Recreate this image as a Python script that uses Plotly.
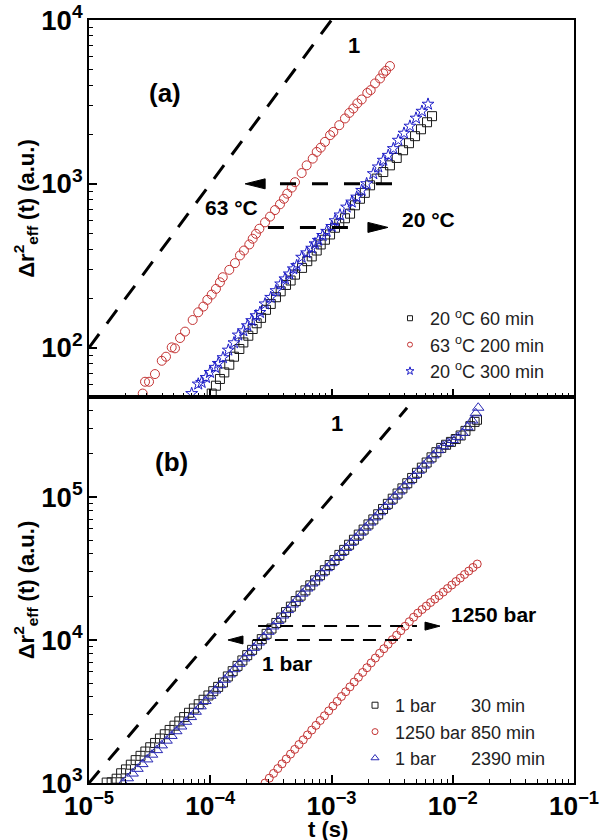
import numpy as np
import plotly.graph_objects as go
from plotly.subplots import make_subplots

# ---------------- panel (a): values read as log10 t(s), log10 dr2 ----------------
a_20c60_logt = [-3.988,-3.953,-3.920,-3.884,-3.843,-3.804,-3.760,-3.727,-3.686,-3.650,
                -3.617,-3.581,-3.540,-3.501,-3.458,-3.419,-3.375,-3.337,-3.301,-3.243,
                -3.200,-3.163,-3.122,-3.089,-3.054,-3.012,-2.971,-2.936,-2.889,-2.847,
                -2.806,-2.765,-2.725,-2.682,-2.627,-2.573,-2.518,-2.462,-2.410,-2.361,
                -2.311,-2.262,-2.212,-2.171]
a_20c60_logy = [1.720,1.768,1.809,1.849,1.896,1.945,1.992,2.032,2.073,2.114,
                2.149,2.182,2.231,2.267,2.308,2.344,2.383,2.410,2.446,2.487,
                2.528,2.557,2.593,2.630,2.659,2.691,2.732,2.757,2.790,2.818,
                2.869,2.909,2.945,2.991,3.032,3.072,3.113,3.158,3.205,3.248,
                3.291,3.333,3.376,3.413]

a_63c200_logt = [-4.557,-4.538,-4.505,-4.456,-4.400,-4.365,-4.318,-4.291,-4.249,-4.208,
                 -4.145,-4.099,-4.057,-4.024,-3.988,-3.953,-3.920,-3.897,-3.843,-3.796,
                 -3.755,-3.722,-3.678,-3.650,-3.623,-3.595,-3.548,-3.507,-3.466,-3.425,
                 -3.392,-3.365,-3.328,-3.301,-3.246,-3.205,-3.155,-3.122,-3.089,-3.054,
                 -3.012,-2.985,-2.936,-2.889,-2.853,-2.820,-2.787,-2.751,-2.705,-2.677,
                 -2.641,-2.600,-2.573,-2.551,-2.518]
a_63c200_logy = [1.720,1.792,1.792,1.839,1.920,1.945,2.002,1.996,2.059,2.098,
                 2.169,2.216,2.251,2.292,2.324,2.359,2.399,2.430,2.475,2.516,
                 2.563,2.593,2.630,2.665,2.695,2.726,2.765,2.800,2.840,2.875,
                 2.909,2.940,2.977,3.010,3.066,3.113,3.154,3.195,3.221,3.256,
                 3.297,3.317,3.358,3.399,3.433,3.460,3.491,3.515,3.555,3.572,
                 3.613,3.643,3.674,3.690,3.719]

a_20c300_logt = [-4.153,-4.099,-4.071,-4.035,-4.002,-3.961,-3.934,-3.895,-3.851,-3.804,
                 -3.769,-3.727,-3.694,-3.658,-3.623,-3.590,-3.548,-3.501,-3.458,-3.419,
                 -3.384,-3.348,-3.315,-3.287,-3.246,-3.205,-3.163,-3.136,-3.109,-3.073,
                 -3.040,-2.998,-2.971,-2.930,-2.875,-2.833,-2.792,-2.751,-2.710,-2.655,
                 -2.614,-2.573,-2.532,-2.490,-2.449,-2.402,-2.353,-2.303,-2.254,-2.204]
a_20c300_logy = [1.720,1.778,1.788,1.818,1.849,1.880,1.904,1.939,1.985,2.030,
                 2.077,2.103,2.134,2.165,2.195,2.215,2.267,2.307,2.348,2.389,
                 2.420,2.450,2.481,2.501,2.552,2.579,2.607,2.634,2.655,2.685,
                 2.710,2.740,2.775,2.810,2.858,2.889,2.919,2.960,3.001,3.062,
                 3.103,3.144,3.174,3.215,3.266,3.309,3.352,3.401,3.443,3.486]

# ---------------- panel (b) ----------------
b_1bar30_logt = [-4.854,-4.813,-4.772,-4.735,-4.695,-4.655,-4.615,
                 -4.575,-4.535,-4.495,-4.455,-4.415,-4.375,-4.335,-4.295,-4.255,-4.215,
                 -4.175,-4.135,-4.095,-4.055,-4.015,-3.975,-3.935,-3.895,
                 -3.855,-3.815,-3.775,-3.735,-3.695,-3.655,-3.615,-3.575,-3.535,-3.495,
                 -3.455,-3.415,-3.375,-3.335,-3.295,-3.255,-3.215,-3.175,-3.135,-3.095,
                 -3.055,-3.015,-2.975,-2.935,-2.895,-2.855,-2.815,-2.775,-2.735,-2.695,
                 -2.655,-2.615,-2.575,-2.535,-2.495,-2.455,-2.415,-2.375,-2.335,-2.295,
                 -2.255,-2.215,-2.175,-2.135,-2.095,-2.055,-2.015,-1.975,-1.935,-1.895,
                 -1.855,-1.820,-1.800]
b_1bar30_logy = [3.003,3.005,3.030,3.068,3.095,3.128,3.160,
                 3.190,3.220,3.250,3.280,3.311,3.341,3.371,3.401,3.431,3.461,
                 3.491,3.521,3.551,3.582,3.612,3.642,3.672,3.703,
                 3.745,3.782,3.819,3.857,3.894,3.931,3.968,4.006,4.043,4.080,
                 4.119,4.157,4.195,4.233,4.272,4.310,4.347,4.382,4.417,4.453,
                 4.488,4.524,4.559,4.595,4.630,4.666,4.701,4.737,4.772,4.808,
                 4.843,4.879,4.916,4.952,4.988,5.024,5.060,5.096,5.133,5.169,
                 5.205,5.241,5.277,5.313,5.343,5.365,5.385,5.405,5.430,5.462,
                 5.495,5.525,5.540]

b_1250bar850_logt = [-3.548,-3.513,-3.478,-3.443,-3.408,-3.373,-3.338,-3.303,-3.268,-3.233,
                     -3.198,-3.163,-3.128,-3.093,-3.058,-3.023,-2.988,-2.953,-2.918,-2.883,
                     -2.848,-2.813,-2.778,-2.743,-2.708,-2.673,-2.638,-2.603,-2.568,-2.533,
                     -2.498,-2.463,-2.428,-2.393,-2.358,-2.323,-2.288,-2.253,-2.218,-2.183,
                     -2.148,-2.113,-2.078,-2.043,-2.008,-1.973,-1.938,-1.903,-1.868,-1.833,
                     -1.798]
b_1250bar850_logy = [3.000,3.034,3.067,3.101,3.134,3.168,3.202,3.235,3.269,3.302,
                     3.336,3.370,3.403,3.437,3.470,3.504,3.538,3.571,3.605,3.638,
                     3.672,3.706,3.739,3.773,3.806,3.840,3.874,3.907,3.939,3.970,
                     4.002,4.033,4.065,4.096,4.128,4.159,4.188,4.213,4.237,4.262,
                     4.286,4.311,4.335,4.360,4.384,4.409,4.433,4.458,4.482,4.507,
                     4.531]

b_1bar2390_logt = [-4.72,-4.68,-4.64,-4.60,-4.56,-4.52,-4.48,-4.44,-4.40,-4.36,-4.32,-4.28,-4.24,-4.20,
                   -4.16,-4.12,-4.08,-4.04,-4.00,-3.96,-3.92,-3.88,-3.84,-3.80,-3.76,-3.72,-3.68,
                   -3.64,-3.60,-3.56,-3.52,
                   -3.48,-3.44,-3.40,-3.36,-3.32,-3.28,-3.24,
                   -3.20,-3.16,-3.12,-3.08,-3.04,-3.00,-2.96,-2.92,-2.88,-2.84,-2.80,-2.76,-2.72,-2.68,
                   -2.64,-2.60,-2.56,-2.52,-2.48,-2.44,-2.40,-2.36,-2.32,-2.28,-2.24,-2.20,-2.16,-2.12,
                   -2.08,-2.04,-2.00,-1.96,-1.92,-1.88,-1.84,-1.81,-1.79]
b_1bar2390_logy = [3.000,3.033,3.066,3.099,3.132,3.165,3.198,3.230,3.263,3.296,3.329,3.362,3.395,3.428,
                   3.461,3.498,3.536,3.573,3.610,3.647,3.684,3.722,3.759,3.796,3.833,3.871,3.908,
                   3.945,3.982,4.020,4.057,
                   4.095,4.133,4.171,4.209,4.248,4.286,4.324,
                   4.360,4.395,4.431,4.466,4.502,4.537,4.573,4.608,4.643,4.679,4.714,4.750,4.785,4.821,
                   4.857,4.893,4.930,4.966,5.002,5.038,5.074,5.110,5.147,5.183,5.219,5.255,5.291,5.327,
                   5.355,5.377,5.398,5.420,5.448,5.488,5.535,5.585,5.624]

# slope-1 guide lines (t, value)
guide_a_t = [1e-5, 1e-3]
guide_a_y = [1e2, 1e4]
guide_b_t = [1e-5, 4.2e-3]
guide_b_y = [1e3, 4.2e5]

# shift arrows: (line start t, line end t, tip t, level, direction)
arrows_a = [(3.76e-4, 3.21e-3, 1.94e-4, 1000, -1),
            (2.99e-4, 1.42e-3, 2.92e-3, 542, 1)]
arrows_b = [(2.48e-4, 5.07e-3, 7.85e-3, 1.25e4, 1),
            (2.25e-4, 4.61e-3, 1.40e-4, 1.0e4, -1)]

BLACK = "#1a1a1a"
RED = "rgb(196,52,52)"
BLUE = "rgb(30,30,200)"
BLUE2 = "rgb(40,40,180)"
FONT = "Liberation Sans"

def p(v):
    return 10 ** np.array(v)

fig = make_subplots(rows=2, cols=1, shared_xaxes=True, vertical_spacing=0,
                    row_heights=[377, 386])

def series(logt, logy, symbol, color, size, row):
    fig.add_trace(go.Scatter(x=p(logt), y=p(logy), mode="markers", showlegend=False,
                             marker=dict(symbol=symbol, size=size, color=color,
                                         line=dict(color=color, width=1))),
                  row=row, col=1)

def legend_item(name, symbol, color, size, legend, row):
    fig.add_trace(go.Scatter(x=[None], y=[None], mode="markers", name=name, legend=legend,
                             marker=dict(symbol=symbol, size=size, color=color,
                                         line=dict(color=color, width=1))),
                  row=row, col=1)

# guide lines
fig.add_trace(go.Scatter(x=guide_a_t, y=guide_a_y, mode="lines", showlegend=False,
                         line=dict(color="black", width=3, dash="17px,13px")), row=1, col=1)
fig.add_trace(go.Scatter(x=guide_b_t, y=guide_b_y, mode="lines", showlegend=False,
                         line=dict(color="black", width=3, dash="16px,14px")), row=2, col=1)

series(a_20c60_logt, a_20c60_logy, "square-open", BLACK, 9, 1)
series(a_63c200_logt, a_63c200_logy, "circle-open", RED, 9, 1)
series(a_20c300_logt, a_20c300_logy, "star-open", BLUE, 9, 1)

series(b_1bar30_logt, b_1bar30_logy, "square-open", BLACK, 9, 2)
series(b_1250bar850_logt, b_1250bar850_logy, "circle-open", RED, 8, 2)
series(b_1bar2390_logt, b_1bar2390_logy, "triangle-up-open", BLUE2, 10, 2)

legend_item("20 <sup>o</sup>C 60 min", "square-open", BLACK, 5, "legend", 1)
legend_item("63 <sup>o</sup>C 200 min", "circle-open", RED, 5, "legend", 1)
legend_item("20 <sup>o</sup>C 300 min", "star-open", BLUE, 6, "legend", 1)

nb = "\u00a0" * 7
legend_item("1 bar" + nb + "30 min", "square-open", BLACK, 6, "legend2", 2)
legend_item("1250 bar 850 min", "circle-open", RED, 6, "legend2", 2)
legend_item("1 bar" + nb + "2390 min", "triangle-up-open", BLUE2, 7, "legend2", 2)

shapes = []
def add_arrows(arrows, xref, yref, dash, lw, hl, hh):
    for t0, t1, tip, lev, d in arrows:
        shapes.append(dict(type="line", xref=xref, yref=yref, x0=t0, x1=t1, y0=lev, y1=lev,
                           line=dict(color="black", width=lw, dash=dash)))
        path = (f"M0,0L{hl},{hh}L{hl},{-hh}Z" if d < 0 else f"M0,0L{-hl},{hh}L{-hl},{-hh}Z")
        shapes.append(dict(type="path", xref=xref, yref=yref, xsizemode="pixel",
                           ysizemode="pixel", xanchor=tip, yanchor=lev, path=path,
                           fillcolor="black", line=dict(color="black", width=1)))

add_arrows(arrows_a, "x", "y", "16px,16px", 3, 20, 5)
add_arrows(arrows_b, "x2", "y2", "13px,9px", 2, 15, 4)

def label(text, x, y, size=21):
    return dict(text=text, x=x, y=y, xref="paper", yref="paper", showarrow=False,
                font=dict(family=FONT, size=size, color="black", weight="bold"),
                xanchor="center", yanchor="middle")

annotations = [
    label("(a)", 0.1567, 0.9043, 26),
    label("(b)", 0.1711, 0.4207, 26),
    label("1", 0.546, 0.966, 22),
    label("1", 0.511, 0.4718, 22),
    label("63 °C", 0.2928, 0.7549),
    label("20 °C", 0.701, 0.7379),
    label("1250 bar", 0.835, 0.2202),
    label("1 bar", 0.408, 0.156),
    label("t (s)", 0.4928, -0.0603, 22),   # x-axis title
]

tickfont = dict(family=FONT, size=22, color="black", weight="bold")
axis_common = dict(type="log", dtick=1, exponentformat="power", showexponent="all",
                   ticks="inside", ticklen=8, tickwidth=1.5, tickcolor="black",
                   showline=True, linewidth=2, linecolor="black", mirror=True,
                   showgrid=False, zeroline=False, tickfont=tickfont, automargin=False,
                   minor=dict(ticks="inside", ticklen=4, tickwidth=1.2, tickcolor="black",
                              dtick="D1", showgrid=False))

ytitle = "Δr<sup>2</sup><sub>eff</sub> (t) (a.u.)"
titlefont = dict(family=FONT, size=22, color="black", weight="bold")
fig.update_xaxes(**axis_common, range=[-5, -1])
fig.update_xaxes(tickfont=dict(family=FONT, size=21, color="black", weight="bold"))
fig.update_xaxes(showticklabels=False, row=1, col=1)
fig.update_yaxes(**axis_common)
fig.update_yaxes(range=[np.log10(50), 4], row=1, col=1,
                 title=dict(text=ytitle, standoff=0, font=titlefont))
fig.update_yaxes(range=[3, np.log10(5e5)], row=2, col=1,
                 title=dict(text=ytitle, standoff=0, font=titlefont))

legend_style = dict(xanchor="left", yanchor="top", bgcolor="rgba(0,0,0,0)",
                    font=dict(family=FONT, size=18, color="#222"), itemsizing="trace")
fig.update_layout(
    width=601, height=840,
    margin=dict(l=89, r=27, t=20, b=57, autoexpand=False),
    paper_bgcolor="white", plot_bgcolor="white",
    shapes=shapes, annotations=annotations,
    legend=dict(x=0.6206, y=0.633, **legend_style),
    legend2=dict(x=0.5485, y=0.1258, **legend_style),
)

fig.write_html("out.html", config={"displayModeBar": False},
               post_script="document.body.style.margin='0px';")
